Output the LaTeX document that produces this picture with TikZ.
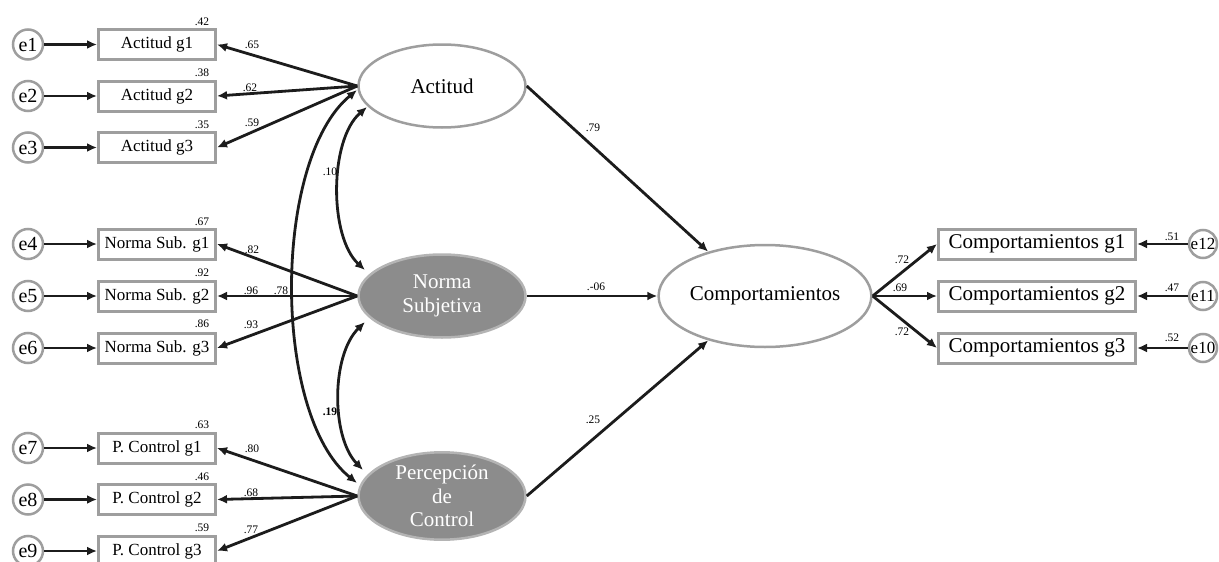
\documentclass[tikz,border=0pt]{standalone}
\usepackage{fontspec}
\setmainfont{Liberation Serif}
\usetikzlibrary{arrows.meta,shapes.geometric}

\definecolor{ink}{HTML}{1C1C1C}
\definecolor{rim}{HTML}{9E9E9E}
\definecolor{latfill}{HTML}{8C8C8C}
\definecolor{latrim}{HTML}{B4B4B4}

\tikzset{
  obsbox/.style={rectangle, draw=rim, line width=3pt, fill=white,
    minimum width=117pt, minimum height=30pt, inner sep=0pt,
    font=\fontsize{17}{19}\selectfont},
  behbox/.style={obsbox, minimum width=197pt, font=\fontsize{21}{23}\selectfont},
  errleft/.style={circle, draw=rim, line width=2.5pt, fill=white,
    minimum size=30pt, inner sep=0pt, font=\fontsize{20}{22}\selectfont},
  errright/.style={errleft, minimum size=28pt, font=\fontsize{17}{19}\selectfont},
  latwhite/.style={ellipse, draw=rim, line width=2.5pt, fill=white,
    minimum width=167pt, minimum height=83pt, inner sep=0pt,
    font=\fontsize{21}{23.5}\selectfont, align=center},
  latgray/.style={latwhite, draw=latrim, fill=latfill, text=white},
  path/.style={draw=ink, line width=2.8pt, -{Latex[length=10pt,width=9pt]}},
  cov/.style={draw=ink, line width=2.8pt,
    {Latex[length=10pt,width=9pt]}-{Latex[length=10pt,width=9pt]}},
  coef/.style={font=\fontsize{11.5}{12}\selectfont, inner sep=0pt}
}

\begin{document}
\begin{tikzpicture}[x=1pt, y=-1pt]
\useasboundingbox (0,0) rectangle (1219,562);

% latent variables
\node[latwhite] (act) at (442,86) {Actitud};
\node[latgray]  (nor) at (442,296) {Norma\\Subjetiva};
\node[latgray]  (per) at (442,496) {Percepción\\de\\Control};
\node[latwhite, minimum width=207pt, minimum height=102pt] (beh) at (765,296) {Comportamientos};

% indicators of the predictors
\node[obsbox] (a1) at (157,44.5) {Actitud g1};
\node[obsbox] (a2) at (157,96) {Actitud g2};
\node[obsbox] (a3) at (157,147.5) {Actitud g3};
\node[obsbox] (n1) at (157,244) {Norma Sub. g1};
\node[obsbox] (n2) at (157,296) {Norma Sub. g2};
\node[obsbox] (n3) at (157,348) {Norma Sub. g3};
\node[obsbox] (p1) at (157,448) {P. Control g1};
\node[obsbox] (p2) at (157,499.5) {P. Control g2};
\node[obsbox] (p3) at (157,551) {P. Control g3};

% indicators of the outcome
\node[behbox] (c1) at (1037,244) {Comportamientos g1};
\node[behbox] (c2) at (1037,296) {Comportamientos g2};
\node[behbox] (c3) at (1037,348) {Comportamientos g3};

% error terms
\node[errleft] (e1) at (28,44.5) {e1};
\node[errleft] (e2) at (28,96) {e2};
\node[errleft] (e3) at (28,147.5) {e3};
\node[errleft] (e4) at (28,244) {e4};
\node[errleft] (e5) at (28,296) {e5};
\node[errleft] (e6) at (28,348) {e6};
\node[errleft] (e7) at (28,448) {e7};
\node[errleft] (e8) at (28,499.5) {e8};
\node[errleft] (e9) at (28,551) {e9};
\node[errright] (e12) at (1203,244) {e12};
\node[errright] (e11) at (1203,296) {e11};
\node[errright] (e10) at (1203,348) {e10};

% error paths
\foreach \e/\b in {e1/a1,e2/a2,e3/a3,e4/n1,e5/n2,e6/n3,e7/p1,e8/p2,e9/p3}
  \draw[path] (\e.east) -- (\b.west);
\draw[path] (e12.west) -- (c1.east);
\draw[path] (e11.west) -- (c2.east);
\draw[path] (e10.west) -- (c3.east);

% loadings
\foreach \b in {a1,a2,a3} \draw[path] (act.west) -- (\b.east);
\foreach \b in {n1,n2,n3} \draw[path] (nor.west) -- (\b.east);
\foreach \b in {p1,p2,p3} \draw[path] (per.west) -- (\b.east);
\foreach \b in {c1,c2,c3} \draw[path] (beh.east) -- (\b.west);

% structural paths
\draw[path] (act.east) -- (beh.142);
\draw[path] (nor.east) -- (beh.west);
\draw[path] (per.east) -- (beh.218);

% covariances
\draw[cov] ([shift={(-75,21)}]act.center) .. controls (329,140) and (329,237) .. ([shift={(-77,-26)}]nor.center);
\draw[cov] ([shift={(-77,26)}]nor.center) .. controls (331,355) and (331,437) .. ([shift={(-79,-26)}]per.center);
\draw[cov] ([shift={(-85,4)}]act.center) .. controls (272,160) and (272,415) .. ([shift={(-85,-13)}]per.center);

% squared multiple correlations
\node[coef] at (202,22) {.42};
\node[coef] at (202,73) {.38};
\node[coef] at (202,125) {.35};
\node[coef] at (202,222) {.67};
\node[coef] at (202,273) {.92};
\node[coef] at (202,324) {.86};
\node[coef] at (202,425) {.63};
\node[coef] at (202,477) {.46};
\node[coef] at (202,528) {.59};

% standardized coefficients
\node[coef] at (252,45) {.65};
\node[coef] at (250,88) {.62};
\node[coef] at (252,123) {.59};
\node[coef] at (252,250) {.82};
\node[coef] at (251,291) {.96};
\node[coef] at (281,291) {.78};
\node[coef] at (251,325) {.93};
\node[coef] at (252,449) {.80};
\node[coef] at (251,493) {.68};
\node[coef] at (251,530) {.77};
\node[coef] at (330,172) {.10};
\node[coef] at (330,412) {\bfseries .19};
\node[coef] at (593,128) {.79};
\node[coef] at (596,287) {.-06};
\node[coef] at (593,420) {.25};
\node[coef] at (902,260) {.72};
\node[coef] at (900,288) {.69};
\node[coef] at (902,332) {.72};
\node[coef] at (1172,237) {.51};
\node[coef] at (1172,288) {.47};
\node[coef] at (1172,338) {.52};
\end{tikzpicture}
\end{document}
